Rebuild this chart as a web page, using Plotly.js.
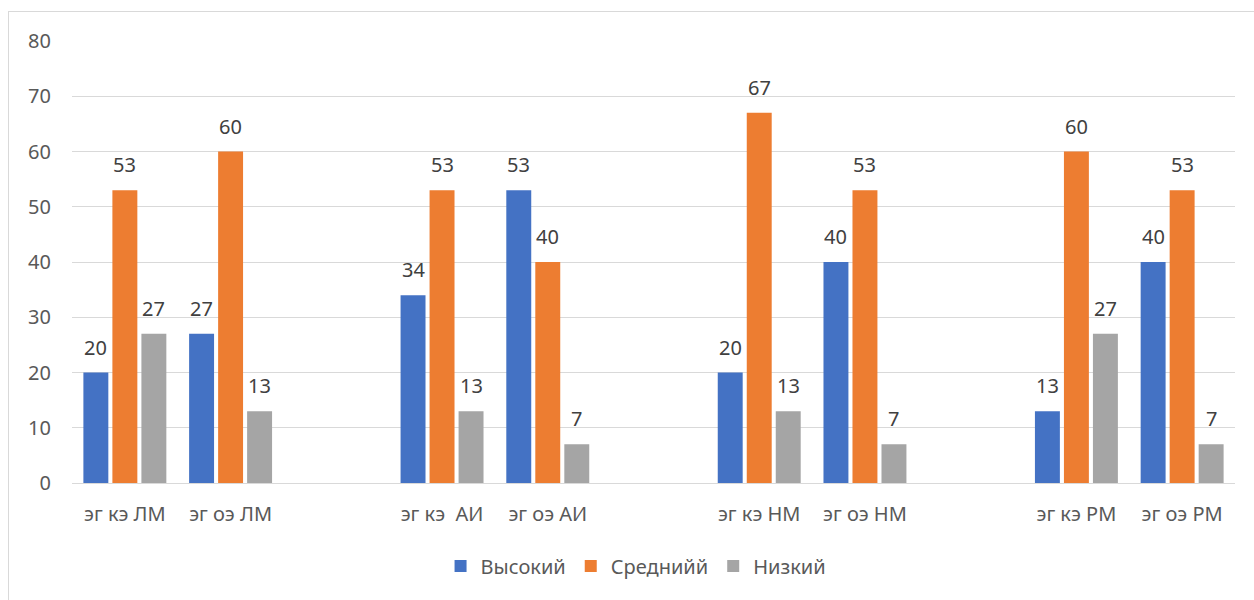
<!DOCTYPE html>
<html>
<head>
<meta charset="utf-8">
<script src="https://cdn.plot.ly/plotly-3.0.1.min.js"></script>
<style>
  html, body { margin: 0; padding: 0; background: #fff; }
  #wrap { position: relative; width: 1254px; height: 600px; }
  #chart { position: absolute; left: 0; top: 0; width: 1254px; height: 600px; }
  #frame { position: absolute; left: 8px; top: 11px; width: 1260px; height: 600px;
           border: 1px solid #d9d9d9; pointer-events: none; box-sizing: border-box; }
</style>
</head>
<body>
<div id="wrap">
  <div id="chart"></div>
  <div id="frame"></div>
</div>
<script>
const categories = ["эг кэ ЛМ", "эг оэ ЛМ", " ", "эг кэ  АИ", "эг оэ АИ", "  ", "эг кэ НМ", "эг оэ НМ", "   ", "эг кэ РМ", "эг оэ РМ"];
const seriesNames = ["Высокий", "Среднийй", "Низкий"];
const high = [20, 27, null, 34, 53, null, 20, 40, null, 13, 40];
const mid  = [53, 60, null, 53, 40, null, 67, 53, null, 60, 53];
const low  = [27, 13, null, 13, 7, null, 13, 7, null, 27, 7];
const yTicks = [0, 10, 20, 30, 40, 50, 60, 70, 80];

const seriesValues = [high, mid, low];
const colors = ["#4472C4", "#ED7D31", "#A5A5A5"];
const FONT = "Noto Sans, Open Sans, sans-serif";

const traces = seriesValues.map((vals, i) => ({
  type: "bar",
  name: seriesNames[i],
  x: categories,
  y: vals,
  marker: { color: colors[i] },
  hoverinfo: "x+y+name"
}));

// data labels above each bar, shifted to the bar's slot inside its group
const slotPx = 29;
const annotations = [];
seriesValues.forEach((vals, i) => {
  vals.forEach((v, j) => {
    if (v === null) return;
    annotations.push({
      x: categories[j], y: v, xref: "x", yref: "y",
      text: String(v), showarrow: false,
      xanchor: "center", yanchor: "bottom",
      xshift: (i - 1) * slotPx, yshift: 10,
      font: { family: FONT, size: 20, color: "#404040" }
    });
  });
});

const layout = {
  width: 1254, height: 600,
  margin: { l: 72, r: 19, t: 41, b: 117 },
  paper_bgcolor: "rgba(255,255,255,0)",
  plot_bgcolor: "rgba(255,255,255,0)",
  barmode: "group",
  bargap: 0.177,
  bargroupgap: 0.14,
  font: { family: FONT, size: 20, color: "#595959" },
  xaxis: {
    type: "category",
    categoryorder: "array",
    categoryarray: categories,
    showgrid: false, zeroline: false, showline: false,
    ticks: "", ticklabelstandoff: 17,
    tickfont: { family: FONT, size: 20, color: "#595959" },
    fixedrange: true
  },
  yaxis: {
    range: [0, 80],
    tickvals: yTicks,
    showgrid: true, gridcolor: "#d9d9d9", gridwidth: 1,
    zeroline: true, zerolinecolor: "#d9d9d9", zerolinewidth: 1,
    showline: false, ticks: "", ticklabelstandoff: 20,
    tickfont: { family: FONT, size: 20, color: "#595959" },
    fixedrange: true
  },
  legend: {
    orientation: "h", x: 0.485, xanchor: "center", y: -0.188, yanchor: "middle",
    font: { family: FONT, size: 20, color: "#595959" },
    itemclick: false, itemdoubleclick: false
  },
  annotations: annotations,
  showlegend: true
};

Plotly.newPlot("chart", traces, layout, { displayModeBar: false, staticPlot: true });
</script>
</body>
</html>
